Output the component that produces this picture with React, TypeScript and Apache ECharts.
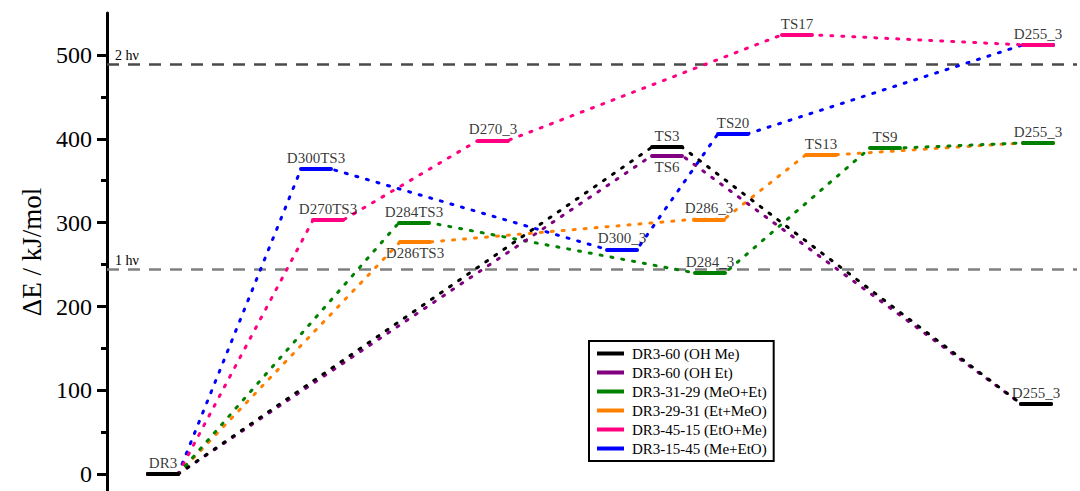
import React, { useEffect, useRef } from "react";
import * as echarts from "echarts";

const FONT = '"Liberation Serif", "Times New Roman", serif';

const pathwayNames = [
  "DR3-60 (OH Me)",
  "DR3-60 (OH Et)",
  "DR3-31-29 (MeO+Et)",
  "DR3-29-31 (Et+MeO)",
  "DR3-45-15 (EtO+Me)",
  "DR3-15-45 (Me+EtO)",
];
const pathwayColors = ["#000000", "#800080", "#008000", "#ff8000", "#ff0080", "#0000ff"];

// level names, energies (kJ/mol) and reaction-coordinate start positions
const blackNames = ["DR3", "TS3", "D255_3"];
const blackEnergies = [0, 390, 84];
const blackX = [41, 545, 914];

const purpleNames = ["DR3", "TS6", "D255_3"];
const purpleEnergies = [0, 380, 84];
const purpleX = [41, 545, 914];

const greenNames = ["DR3", "D284TS3", "D284_3", "TS9", "D255_3"];
const greenEnergies = [0, 300, 240, 389, 395];
const greenX = [41, 292, 588, 763, 916];

const orangeNames = ["DR3", "D286TS3", "D286_3", "TS13", "D255_3"];
const orangeEnergies = [0, 277, 304, 381, 395];
const orangeX = [41, 293, 587, 699, 916];

const pinkNames = ["DR3", "D270TS3", "D270_3", "TS17", "D255_3"];
const pinkEnergies = [0, 303, 398, 524, 512];
const pinkX = [41, 206, 371, 675, 916];

const blueNames = ["DR3", "D300TS3", "D300_3", "TS20", "D255_3"];
const blueEnergies = [0, 364, 268, 406, 512];
const blueX = [41, 194, 500, 611, 916];

const LEVEL_WIDTH = 30;

const hvEnergies = [489, 244];
const hvLabels = ["2 hν", "1 hν"];
const hvColors = ["#4a4a4a", "#808080"];

const majorTicks = [0, 100, 200, 300, 400, 500];
const minorTicks = [50, 150, 250, 350, 450];
const labelsBelow = ["D286TS3", "TS6"];

const pathways = [
  { names: blackNames, energies: blackEnergies, xs: blackX },
  { names: purpleNames, energies: purpleEnergies, xs: purpleX },
  { names: greenNames, energies: greenEnergies, xs: greenX },
  { names: orangeNames, energies: orangeEnergies, xs: orangeX },
  { names: pinkNames, energies: pinkEnergies, xs: pinkX },
  { names: blueNames, energies: blueEnergies, xs: blueX },
];

export default function App() {
  const ref = useRef<HTMLDivElement>(null);
  useEffect(() => {
    if (!ref.current) return;
    const chart = echarts.init(ref.current, null, { renderer: "svg" });

    const series: any[] = [];
    pathways.forEach((p, i) => {
      const pts: number[][] = [];
      p.xs.forEach((x, k) => {
        if (k > 0) pts.push([x, p.energies[k]]);
        pts.push([x + LEVEL_WIDTH, p.energies[k]]);
      });
      series.push({
        name: pathwayNames[i],
        type: "line",
        data: pts,
        showSymbol: false,
        symbol: "none",
        z: 10 - i,
        color: pathwayColors[i],
        lineStyle: { type: [2, 9], width: 3, color: pathwayColors[i], cap: "round" },
        markLine: {
          silent: true,
          z: 30 - i,
          symbol: ["none", "none"],
          label: { show: false },
          lineStyle: { type: "solid", width: 4, color: pathwayColors[i], cap: "round" },
          data: p.xs.map((x, k) => [
            { coord: [x, p.energies[k]] },
            { coord: [x + LEVEL_WIDTH, p.energies[k]] },
          ]),
        },
      });
    });

    const seen = new Set<string>();
    const labelData: any[] = [];
    pathways.forEach((p) => {
      p.xs.forEach((x, k) => {
        const key = p.names[k] + "|" + p.energies[k];
        if (seen.has(key)) return;
        seen.add(key);
        const below = labelsBelow.includes(p.names[k]);
        labelData.push({
          name: p.names[k],
          value: [x + LEVEL_WIDTH / 2, p.energies[k]],
          label: { position: below ? "bottom" : "top" },
        });
      });
    });
    series.push({
      name: "labels",
      type: "scatter",
      data: labelData,
      symbolSize: 1,
      silent: true,
      z: 40,
      itemStyle: { color: "transparent" },
      label: {
        show: true,
        formatter: "{b}",
        fontFamily: FONT,
        fontSize: 15,
        color: "#000",
        distance: 3,
      },
    });

    series.push({
      name: "hv",
      type: "line",
      data: [],
      z: 1,
      markLine: {
        silent: true,
        z: 1,
        symbol: ["none", "none"],
        label: {
          show: true,
          position: "insideStartTop",
          fontFamily: FONT,
          fontSize: 14,
          color: "#000",
          distance: [8, 2],
        },
        data: hvEnergies.map((e, k) => ({
          yAxis: e,
          lineStyle: { color: hvColors[k], type: [12, 9], width: 2.5 },
          label: {
            show: true,
            formatter: hvLabels[k],
            position: "insideStartTop",
            fontFamily: FONT,
            fontSize: 14,
            color: "#000",
            distance: [8, 2],
          },
        })),
      },
    });

    chart.setOption({
      animation: false,
      backgroundColor: "#fff",
      grid: { left: 107, right: 3, top: 13, bottom: 0, containLabel: false },
      xAxis: { type: "value", min: 0, max: 970, show: false },
      yAxis: [
        {
          type: "value",
          min: -20,
          max: 550,
          position: "left",
          name: "ΔE / kJ/mol",
          nameLocation: "middle",
          nameGap: 62,
          nameTextStyle: { fontFamily: FONT, fontSize: 27, color: "#000" },
          axisLine: { show: true, lineStyle: { color: "#000", width: 3 } },
          axisTick: { show: true, length: 10, lineStyle: { color: "#000", width: 3 }, customValues: majorTicks },
          axisLabel: { customValues: majorTicks, fontFamily: FONT, fontSize: 24, color: "#000", margin: 15 },
          splitLine: { show: false },
        },
        {
          type: "value",
          min: -20,
          max: 550,
          position: "left",
          axisLine: { show: false },
          axisTick: { show: true, length: 6, lineStyle: { color: "#000", width: 3 }, customValues: minorTicks },
          axisLabel: { show: false },
          splitLine: { show: false },
        },
      ],
      legend: {
        data: pathwayNames,
        orient: "vertical",
        left: 589,
        top: 341,
        padding: [5, 7, 5, 8],
        itemGap: 4,
        itemWidth: 27,
        itemHeight: 4,
        icon: "rect",
        borderColor: "#000",
        borderWidth: 2,
        backgroundColor: "#fff",
        z: 50,
        textStyle: { fontFamily: FONT, fontSize: 15, color: "#000", lineHeight: 15, padding: [0, 0, 0, 3] },
      },
      series,
    });
    return () => chart.dispose();
  }, []);
  return (
    <div
      ref={ref}
      style={{ position: "fixed", left: 0, top: 0, width: 1080, height: 491, background: "#fff" }}
    />
  );
}
